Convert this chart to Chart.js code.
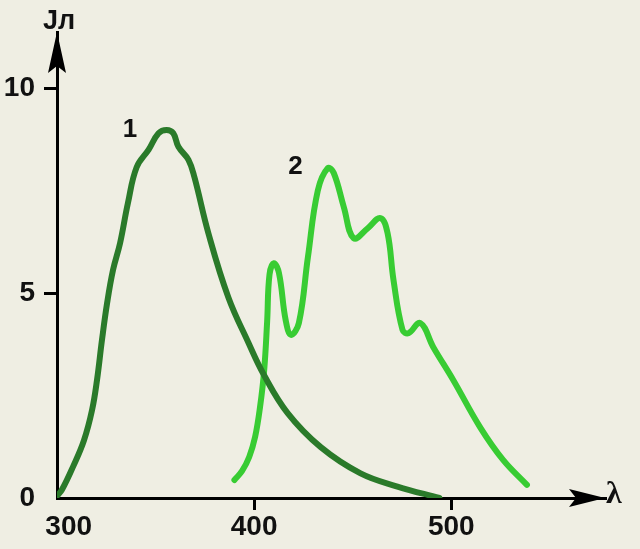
<!DOCTYPE html>
<html>
<head>
<meta charset="utf-8">
<script src="https://cdn.jsdelivr.net/npm/chart.js@4.4.1/dist/chart.umd.min.js"></script>
<style>
  html, body { margin: 0; padding: 0; background: #efeee3; }
  #wrap { width: 640px; height: 549px; position: relative; }
</style>
</head>
<body>
<div id="wrap"><canvas id="chart"></canvas></div>
<script>
// curve 1 (dark green)
const x1 = [300, 302.5, 308.1, 313.7, 317.8, 320.3, 322.8, 325.4, 328.4, 332, 336, 340.4, 346.5, 351.5, 355.6, 359, 361.6, 366.7, 369.7, 376.8, 386.9, 397, 405, 417, 433.8, 454, 472.7, 494]
const y1 = [0.05, 0.2, 0.76, 1.41, 2.15, 2.88, 3.85, 4.75, 5.56, 6.22, 7.2, 8.07, 8.5, 8.9, 8.98, 8.9, 8.57, 8.25, 7.83, 6.46, 4.9, 3.8, 3.0, 2.07, 1.24, 0.6, 0.28, 0]

// curve 2 (light green)
const x2 = [390, 393.9, 397.5, 400.5, 403, 405.1, 406.6, 407.8, 410, 412.6, 416, 418.7, 422.7, 427.3, 432.3, 437.4, 440.4, 445.5, 450.5, 457.6, 464.1, 467.7, 470.7, 475.3, 478.3, 484.3, 490.9, 501, 514.6, 526.3, 538.4]
const y2 = [0.44, 0.66, 1.0, 1.49, 2.22, 3.12, 4.3, 5.45, 5.73, 5.49, 4.34, 3.98, 4.27, 5.88, 7.5, 8.05, 7.93, 7.1, 6.34, 6.58, 6.83, 6.46, 5.32, 4.1, 4.02, 4.27, 3.68, 2.88, 1.73, 0.93, 0.32]

const xTicks = [300, 400, 500]
const yTicks = [0, 5, 10]
const curveNames = ['1', '2']

const toPoints = (xs, ys) => xs.map((x, i) => ({ x: x, y: ys[i] }))

const tickFont = { family: 'Liberation Sans', size: 28, weight: 'bold' }

// arrows, axis names, curve numbers
const decor = {
    id: 'decor',
    afterDraw(chart) {
        const ctx = chart.ctx
        const a = chart.chartArea
        const xs = chart.scales.x
        const ys = chart.scales.y
        ctx.save()
        ctx.fillStyle = '#000'
        // x arrow
        ctx.beginPath()
        ctx.moveTo(a.right, a.bottom)
        ctx.lineTo(a.right - 36, a.bottom - 9)
        ctx.lineTo(a.right - 29, a.bottom)
        ctx.lineTo(a.right - 36, a.bottom + 9)
        ctx.closePath()
        ctx.fill()
        // y arrow
        ctx.beginPath()
        ctx.moveTo(a.left, a.top)
        ctx.lineTo(a.left - 9, a.top + 41)
        ctx.lineTo(a.left, a.top + 34)
        ctx.lineTo(a.left + 9, a.top + 41)
        ctx.closePath()
        ctx.fill()

        ctx.fillStyle = '#111'
        ctx.textBaseline = 'middle'
        ctx.font = 'bold 27px "Liberation Sans"'
        ctx.textAlign = 'left'
        ctx.fillText('J\u043b', 43, 22)
        ctx.font = 'bold 32px "Liberation Serif"'
        ctx.fillText('\u03bb', 606, 495)

        ctx.font = 'bold 26px "Liberation Sans"'
        ctx.textAlign = 'center'
        ctx.fillText(curveNames[0], xs.getPixelForValue(337), ys.getPixelForValue(8.98))
        ctx.fillText(curveNames[1], xs.getPixelForValue(421), ys.getPixelForValue(8.08))
        ctx.restore()
    }
}

new Chart(document.getElementById('chart'), {
    type: 'line',
    data: {
        datasets: [
            {
                label: curveNames[0],
                data: toPoints(x1, y1),
                borderColor: '#2a7a2a',
                borderWidth: 6,
                tension: 0.4,
                borderCapStyle: 'round',
                borderJoinStyle: 'round',
                pointRadius: 0
            },
            {
                label: curveNames[1],
                data: toPoints(x2, y2),
                borderColor: '#38cc33',
                borderWidth: 6,
                tension: 0.4,
                borderCapStyle: 'round',
                borderJoinStyle: 'round',
                pointRadius: 0
            }
        ]
    },
    options: {
        responsive: true,
        maintainAspectRatio: false,
        animation: false,
        layout: { padding: { top: 32, right: 35, left: 0, bottom: 0 } },
        plugins: {
            legend: { display: false },
            tooltip: { enabled: false }
        },
        scales: {
            x: {
                type: 'linear',
                min: 300,
                max: 578,
                afterBuildTicks: (scale) => { scale.ticks = xTicks.map(v => ({ value: v })) },
                afterFit: (scale) => { scale.height = 51 },
                border: { display: true, color: '#000', width: 3 },
                grid: {
                    drawOnChartArea: false,
                    tickLength: 12,
                    lineWidth: 3,
                    color: (c) => c.tick && c.tick.value === 300 ? 'rgba(0,0,0,0)' : '#000'
                },
                ticks: {
                    color: '#111',
                    font: tickFont,
                    padding: 0,
                    maxRotation: 0,
                    callback: (v) => v === 300 ? '   ' + v : '' + v
                }
            },
            y: {
                min: 0,
                max: 11.37,
                afterBuildTicks: (scale) => { scale.ticks = yTicks.map(v => ({ value: v })) },
                afterFit: (scale) => { scale.width = 57 },
                border: { display: true, color: '#000', width: 3 },
                grid: {
                    drawOnChartArea: false,
                    tickLength: 13,
                    lineWidth: 3,
                    color: (c) => c.tick && c.tick.value === 0 ? 'rgba(0,0,0,0)' : '#000'
                },
                ticks: {
                    color: '#111',
                    font: tickFont,
                    padding: 9
                }
            }
        }
    },
    plugins: [decor]
});
</script>
</body>
</html>
